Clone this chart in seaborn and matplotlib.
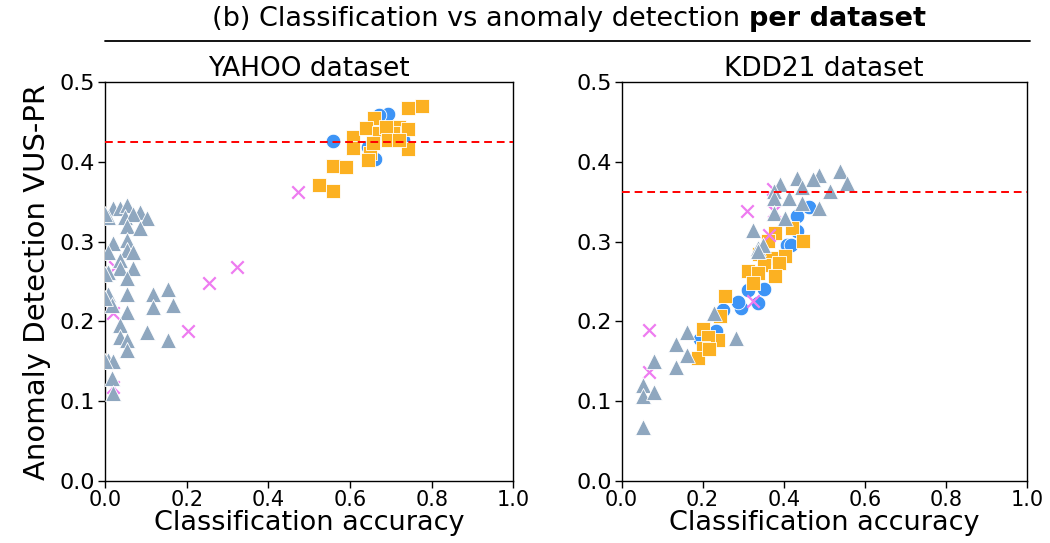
import numpy as np
import pandas as pd
import matplotlib
matplotlib.use("Agg")
import matplotlib.pyplot as plt
from matplotlib.lines import Line2D
import seaborn as sns

sns.set_style("ticks")
plt.rcParams['font.family'] = ['DejaVu Sans']
plt.rcParams['text.color'] = 'black'
plt.rcParams['axes.labelcolor'] = 'black'
plt.rcParams['xtick.color'] = 'black'
plt.rcParams['ytick.color'] = 'black'

# ---------------- data ----------------
# YAHOO dataset
yahoo_circle_x = [0.557, 0.693, 0.672, 0.644, 0.660, 0.730]
yahoo_circle_y = [0.426, 0.460, 0.459, 0.419, 0.404, 0.427]

yahoo_square_x = [0.775, 0.741, 0.658, 0.607, 0.607, 0.640, 0.672, 0.721, 0.741, 0.705,
                  0.648, 0.644, 0.741, 0.558, 0.591, 0.524, 0.557, 0.689, 0.656, 0.692, 0.721]
yahoo_square_y = [0.470, 0.467, 0.455, 0.431, 0.417, 0.442, 0.436, 0.444, 0.441, 0.436,
                  0.411, 0.402, 0.416, 0.395, 0.393, 0.371, 0.363, 0.444, 0.423, 0.427, 0.427]

yahoo_cross_x = [0.472, 0.323, 0.254, 0.203, 0.024, 0.019, 0.019]
yahoo_cross_y = [0.362, 0.268, 0.248, 0.188, 0.268, 0.210, 0.118]

yahoo_tri_x = [0.019, 0.037, 0.053, 0.085, 0.102, 0.008, 0.049, 0.069, 0.053, 0.085,
               0.020, 0.053, 0.008, 0.053, 0.069, 0.037, 0.037, 0.069, 0.008, 0.053,
               0.053, 0.008, 0.118, 0.155, 0.167, 0.118, 0.016, 0.053, 0.037, 0.037,
               0.053, 0.053, 0.102, 0.155, 0.008, 0.020, 0.016, 0.020, 0.000, 0.000,
               0.000, 0.000]
yahoo_tri_y = [0.342, 0.342, 0.346, 0.337, 0.329, 0.331, 0.331, 0.335, 0.319, 0.317,
               0.298, 0.302, 0.287, 0.289, 0.287, 0.277, 0.267, 0.267, 0.262, 0.254,
               0.235, 0.235, 0.235, 0.241, 0.221, 0.218, 0.221, 0.212, 0.196, 0.181,
               0.177, 0.164, 0.187, 0.177, 0.152, 0.150, 0.129, 0.110, 0.335, 0.260,
               0.230, 0.150]

yahoo_threshold = 0.425

# KDD21 dataset
kdd_circle_x = [0.463, 0.432, 0.432, 0.407, 0.418, 0.352, 0.311, 0.336, 0.295, 0.286,
                0.249, 0.233, 0.193]
kdd_circle_y = [0.343, 0.332, 0.313, 0.296, 0.296, 0.241, 0.240, 0.223, 0.217, 0.225,
                0.214, 0.188, 0.178]

kdd_square_x = [0.420, 0.447, 0.379, 0.361, 0.340, 0.369, 0.402, 0.389, 0.352, 0.311,
                0.336, 0.379, 0.323, 0.255, 0.244, 0.202, 0.237, 0.214, 0.200, 0.189, 0.216]
kdd_square_y = [0.317, 0.301, 0.311, 0.301, 0.284, 0.280, 0.282, 0.273, 0.271, 0.263,
                0.261, 0.257, 0.248, 0.232, 0.207, 0.190, 0.177, 0.181, 0.167, 0.154, 0.165]

kdd_cross_x = [0.067, 0.067, 0.309, 0.377, 0.373, 0.364, 0.323]
kdd_cross_y = [0.189, 0.137, 0.338, 0.338, 0.366, 0.308, 0.226]

kdd_tri_x = [0.539, 0.555, 0.513, 0.486, 0.472, 0.432, 0.445, 0.486, 0.445, 0.391,
             0.377, 0.377, 0.414, 0.377, 0.404, 0.323, 0.336, 0.348, 0.336, 0.229,
             0.282, 0.161, 0.134, 0.161, 0.134, 0.081, 0.052, 0.052, 0.081, 0.052]
kdd_tri_y = [0.389, 0.373, 0.364, 0.384, 0.378, 0.380, 0.368, 0.342, 0.349, 0.372,
             0.363, 0.355, 0.355, 0.336, 0.329, 0.315, 0.292, 0.296, 0.288, 0.211,
             0.179, 0.187, 0.172, 0.158, 0.143, 0.151, 0.120, 0.107, 0.111, 0.068]

kdd_threshold = 0.362

panel_titles = ["YAHOO dataset", "KDD21 dataset"]
xticks = [0.0, 0.2, 0.4, 0.6, 0.8, 1.0]
yticks = [0.0, 0.1, 0.2, 0.3, 0.4, 0.5]

# ---------------- style ----------------
styles = {
    "circle":   dict(marker="o", color="#3d94f6", s=110),
    "square":   dict(marker="s", color="#fcb122", s=115),
    "cross":    dict(marker="x", color="#ee7cf0", s=80),
    "triangle": dict(marker="^", color="#8fa7bf", s=130),
}

panels = [
    dict(circle=(yahoo_circle_x, yahoo_circle_y), square=(yahoo_square_x, yahoo_square_y),
         cross=(yahoo_cross_x, yahoo_cross_y), triangle=(yahoo_tri_x, yahoo_tri_y),
         thr=yahoo_threshold),
    dict(circle=(kdd_circle_x, kdd_circle_y), square=(kdd_square_x, kdd_square_y),
         cross=(kdd_cross_x, kdd_cross_y), triangle=(kdd_tri_x, kdd_tri_y),
         thr=kdd_threshold),
]

fig = plt.figure(figsize=(10.5, 5.43), dpi=100)
ax_l = fig.add_axes([0.100, 0.114, 0.389, 0.735])
ax_r = fig.add_axes([0.592, 0.114, 0.386, 0.735])

for i, (ax, p) in enumerate(zip([ax_l, ax_r], panels)):
    for key in ["circle", "square", "cross", "triangle"]:
        xs, ys = p[key]
        df = pd.DataFrame({"acc": xs, "vus": ys})
        st = styles[key]
        if key == "cross":
            sns.scatterplot(data=df, x="acc", y="vus", ax=ax, marker="x",
                            color=st["color"], s=st["s"], linewidth=1.6,
                            clip_on=True, zorder=3)
        else:
            sns.scatterplot(data=df, x="acc", y="vus", ax=ax, marker=st["marker"],
                            color=st["color"], s=st["s"], edgecolor="white",
                            linewidth=0.6, clip_on=True, zorder=3 if key != "triangle" else 4)
    ax.axhline(p["thr"], color="red", linestyle=(0, (4, 2.5)), linewidth=1.4, zorder=5)
    ax.set_xlim(0, 1)
    ax.set_ylim(0, 0.5)
    ax.set_xticks(xticks)
    ax.set_yticks(yticks)
    ax.set_xticklabels([f"{t:.1f}" for t in xticks])
    ax.set_yticklabels([f"{t:.1f}" for t in yticks])
    ax.tick_params(axis="x", labelsize=15, length=5, width=1, direction="out", pad=1.5,
                   colors="black")
    ax.tick_params(axis="y", labelsize=16, length=5, width=1, direction="out", pad=2,
                   colors="black")
    ax.set_xlabel("Classification accuracy", fontsize=19.5, labelpad=0, color="black")
    ax.set_ylabel("Anomaly Detection VUS-PR" if i == 0 else "", fontsize=21, labelpad=6,
                  color="black")
    ax.set_title(panel_titles[i], fontsize=19, pad=4, color="black")
    for sp in ax.spines.values():
        sp.set_visible(True)
        sp.set_linewidth(1.0)
        sp.set_color("black")
    if ax.get_legend() is not None:
        ax.get_legend().remove()

# Super title with bold part
renderer = fig.canvas.get_renderer()
part1 = "(b) Classification vs anomaly detection "
part2 = "per dataset"
t1 = fig.text(0, 0, part1, fontsize=19.5, color="black")
t2 = fig.text(0, 0, part2, fontsize=19.5, fontweight="bold", color="black")
w1 = t1.get_window_extent(renderer).width
w2 = t2.get_window_extent(renderer).width
W = fig.get_figwidth() * fig.dpi
H = fig.get_figheight() * fig.dpi
cx = 569.0
y_title = 1 - 18.5 / H
x0 = (cx - (w1 + w2) / 2) / W
t1.set_position((x0, y_title))
t1.set_va("center")
t2.set_position((x0 + w1 / W, y_title))
t2.set_va("center")

fig.add_artist(Line2D([105 / W, 1030 / W], [1 - 41.0 / H, 1 - 41.0 / H],
                      color="black", linewidth=1.3, transform=fig.transFigure))

fig.savefig("out.png", dpi=100)
